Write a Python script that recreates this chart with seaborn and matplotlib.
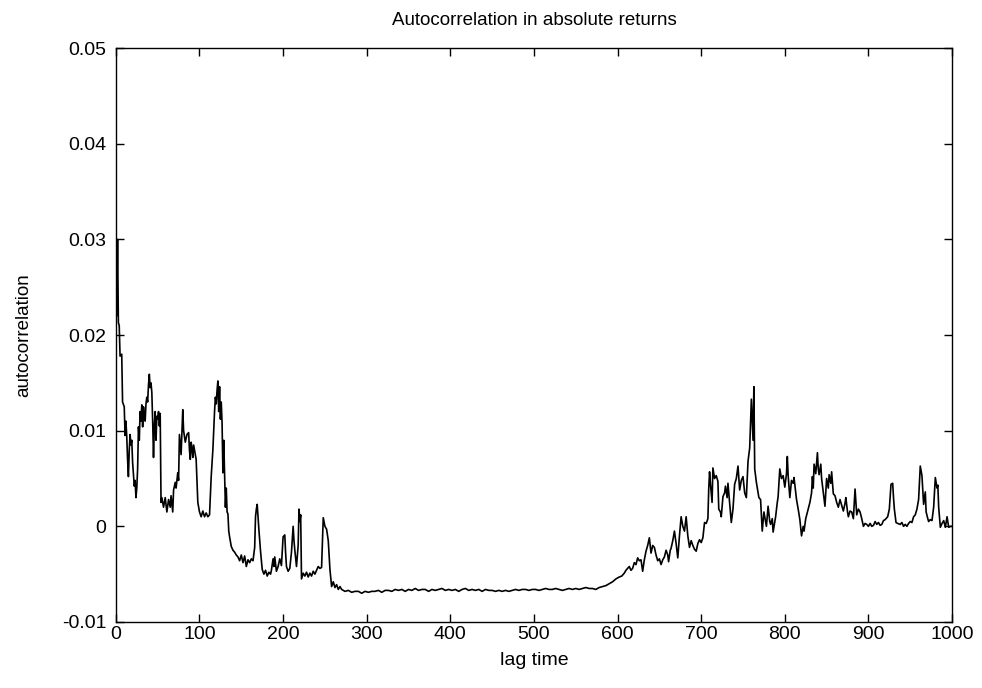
import numpy as np
import pandas as pd
import matplotlib
matplotlib.use("Agg")
import matplotlib.pyplot as plt
import seaborn as sns

# ---------------- data ----------------
lags = [
    0, 1, 2, 3, 4, 5, 7, 8, 10, 11, 12, 13, 14, 15, 16, 17, 18, 19, 20, 21, 22, 23, 24, 25, 26, 27, 28, 29,
    30, 31, 32, 33, 34, 35, 36, 37, 38, 39, 40, 41, 42, 43, 44, 45, 46, 47, 48, 49, 50, 51, 52, 53, 54, 55,
    57, 59, 61, 63, 65, 66, 68, 69, 71, 72, 74, 75, 76, 78, 80, 81, 83, 85, 87, 88, 89, 90, 91, 92, 93, 96,
    98, 100, 102, 104, 106, 108, 110, 112, 114, 116, 118, 119, 120, 121, 122, 123, 124, 125, 126, 127, 128,
    129, 130, 131, 132, 133, 134, 135, 136, 138, 140, 142, 144, 146, 148, 150, 152, 154, 156, 158, 160, 162,
    164, 166,
    167, 168, 169, 170, 171, 173, 175, 177, 179, 181, 183, 185, 186, 188, 189, 190, 192, 194, 196, 198, 199,
    200, 202, 203, 204, 206, 208, 210, 212, 213, 214, 216, 218, 219, 220, 221, 222, 224, 226, 228, 230, 232,
    234, 236, 238, 240, 242, 244, 246, 248, 250, 252, 254, 256, 258, 260, 262, 264, 266, 268, 270, 274, 278,
    282, 286, 290, 294, 298, 302, 306, 310, 314, 318, 322, 326, 330, 334, 338, 342, 346, 350, 354, 358, 362,
    366, 370, 374, 378, 382, 386, 390, 394, 398, 402, 406, 410, 414, 418, 422, 426, 430, 434, 438, 442, 446,
    450, 454, 458, 462, 466, 470, 474, 478, 482, 486, 490, 494, 498, 502, 506, 510, 514, 518, 522, 526, 530,
    534, 538, 542, 546, 550, 554, 558, 562, 566, 570, 574, 578, 582, 586, 590, 594, 598, 602, 605, 608, 610,
    614, 616, 618, 620, 622, 624, 626, 628, 630, 632, 634, 636, 638, 640, 642, 644, 646, 648, 650, 652, 654,
    656, 658, 660, 661, 663, 664, 666, 668, 670, 672, 674, 676, 678, 680, 682, 684, 686, 688, 690, 692, 694,
    696, 698, 700, 702, 704, 706, 708, 709, 710, 711, 713, 714, 716, 718, 720, 721, 723, 724, 726, 728, 729,
    731, 732, 734, 736, 738, 740, 742, 744, 746, 748, 750, 752, 754, 756, 758, 760, 762, 763, 764, 766, 768,
    769, 771, 773, 775, 776, 778, 780, 782, 783, 785, 786, 788, 789, 791, 792, 794, 796, 798, 800, 802, 803,
    804, 806, 808, 810, 811, 813, 814, 816, 818, 820, 822, 823, 825, 828, 830, 832, 833, 834, 835, 836, 837,
    839, 840, 841, 843, 844, 846, 848, 850, 852, 853, 855, 856, 858, 860, 862, 864, 866, 868, 870, 872, 873,
    875, 876, 878, 880, 882, 884, 886, 888, 890, 892, 894, 896, 898, 900, 902, 904, 906, 908, 910, 912, 914,
    916, 918, 920, 923, 925, 927, 929, 930, 931, 933, 935, 938, 940, 942, 944, 946, 948, 950, 952, 954, 956,
    958, 960, 962, 964, 966, 968, 969, 971, 972, 974, 976, 978, 980, 982, 983, 984, 986, 988, 990, 992, 994,
    996, 998, 1000,
]

# autocorrelation values in units of 1e-3
autocorr_e3 = [
    31.2, 22.0, 30.0, 21.3, 21.0, 17.8, 18.0, 13.0, 12.5, 9.5, 11.0, 9.4, 7.0, 5.2, 8.0, 9.6, 8.5, 9.0, 6.7,
    5.5, 4.2, 4.8, 3.0, 4.0, 6.0, 10.4, 9.0, 12.0,
    11.0, 12.7, 10.4, 12.5, 11.5, 11.0, 12.8, 13.5, 13.0, 14.8, 15.9, 14.5, 15.0, 14.0, 11.0, 7.2, 10.5, 12.0,
    9.0, 11.5, 11.2, 12.0, 10.5, 11.8, 2.5, 3.0,
    2.0, 3.0, 1.5, 2.8, 2.0, 3.2, 1.5, 3.8, 4.6, 4.0, 5.6, 4.8, 9.6, 7.5, 12.2, 10.0, 8.8, 9.6, 9.8, 8.0, 7.0,
    8.8, 8.2, 7.2, 8.5, 7.0,
    2.5, 1.5, 1.0, 1.6, 1.0, 1.4, 1.0, 1.2, 5.2, 8.0, 12.0, 13.5, 12.8, 14.2, 15.2, 12.0, 14.6, 11.2, 13.0,
    10.8, 5.6,
    9.0, 5.4, 2.0, 4.0, 1.5, 1.3, -0.5, -1.1, -2.1, -2.5, -2.7, -3.0, -3.2, -3.6, -3.0, -3.8, -3.1, -4.2, -3.5,
    -3.8, -3.4,
    -3.6, -2.2,
    1.0, 1.8, 2.3, 1.0, -0.3, -2.6, -4.5, -5.0, -4.6, -5.2, -4.8, -5.0, -4.6, -3.4, -4.2, -3.2, -4.7, -4.2,
    -3.4, -4.1, -2.5,
    -1.1, -0.9, -2.8, -4.2, -4.7, -4.4, -2.7, 0.0, -1.5, -2.5, -4.2, -2.0, 1.8, 0.5, 1.2, -5.5, -4.9, -5.2,
    -4.8, -5.3, -4.9,
    -5.2, -4.7, -5.0, -4.6, -4.2, -4.4, -4.3, 0.9, 0.0, -0.3, -1.5, -4.5, -6.3, -5.8, -6.4, -6.1, -6.6, -6.3,
    -6.6, -6.8, -6.7,
    -6.9, -6.8, -6.8, -7.0, -6.8, -6.9, -6.8, -6.8, -6.7, -6.9, -6.7, -6.7, -6.8, -6.6, -6.7, -6.6, -6.8, -6.6,
    -6.7, -6.5, -6.7,
    -6.6, -6.6, -6.8, -6.6, -6.7, -6.6, -6.5, -6.7, -6.6, -6.7, -6.6, -6.8, -6.6, -6.5, -6.7, -6.6, -6.7, -6.6,
    -6.8, -6.6, -6.7,
    -6.7, -6.8, -6.7, -6.8, -6.7, -6.8, -6.7, -6.6, -6.7, -6.6, -6.6, -6.7, -6.6, -6.6, -6.7, -6.6, -6.5, -6.6,
    -6.6, -6.5, -6.6,
    -6.7, -6.6, -6.5, -6.6, -6.5, -6.6, -6.5, -6.4, -6.5, -6.5, -6.6, -6.4, -6.3, -6.2, -6.0, -5.8, -5.5, -5.3,
    -5.2, -4.9, -4.6,
    -4.2, -4.6, -4.4, -3.8, -4.0, -3.3, -3.6, -3.5, -4.7, -3.5, -2.6, -2.0, -1.2, -2.8, -2.0, -2.2, -3.0, -3.6,
    -3.4, -4.0, -3.5,
    -3.2, -2.5, -3.0, -3.7, -2.5, -2.3, -1.5, -0.5, -1.8, -3.3, -1.0, 1.0, 0.0, -0.5, 1.0, -1.0, -2.2, -1.5,
    -2.0, -2.4, -2.6,
    -1.8, -1.4, -1.7, -1.2, 0.4, 0.3, 0.8, 3.9, 5.7, 4.5, 2.5, 6.1, 5.0, 5.3, 4.7, 1.8, 1.5, 1.0, 3.1, 3.5,
    4.2,
    3.0, 4.5, 2.5, 0.4, 1.8, 4.4, 5.0, 6.3, 3.8, 4.8, 5.2, 3.5, 3.0, 6.8, 8.2, 13.3, 9.0, 14.6, 6.0, 4.6, 3.5,
    3.0, 2.8, -0.5, 1.5, 1.0, 0.0, 2.1, 0.5, 0.2, 0.8, -0.6, 0.5, 1.0, 2.5, 3.1, 6.0, 5.0, 5.3, 4.1, 5.5, 7.3,
    5.3, 3.0, 4.8, 4.5, 5.1, 3.5, 2.8, 1.8, 0.7, -1.0, 0.0, -0.5, 0.8, 1.8, 2.5, 3.5, 5.2, 4.0, 6.5, 6.0, 5.5,
    7.7, 6.0, 5.4, 6.5, 5.0, 3.5, 2.1, 5.0, 4.0, 5.4, 4.5, 5.7, 3.4, 3.2, 2.5, 2.0, 2.8, 2.2, 1.6, 2.4, 3.0,
    1.5, 1.0, 1.6, 1.5, 0.8, 3.9, 1.2, 1.8, 1.5, 0.8, 0.0, 0.3, 0.2, 0.0, 0.3, 0.0, 0.1, 0.5, 0.2, 0.4, 0.1,
    0.2, 0.6, 0.7, 1.0, 1.8, 4.4, 4.5, 3.0, 1.8, 0.4, 0.3, 0.2, 0.4, 0.0, 0.2, 0.0, 0.3, 0.5, 0.4, 1.0, 1.2,
    1.8, 2.8, 6.3, 5.3, 2.3, 3.6, 1.5, 0.8, 0.5, 0.7, 0.6, 2.0, 5.1, 4.0, 4.3, 2.0, -0.1, 0.3, 0.6, -0.1, 1.0,
    -0.1, 0.0, 0.0,
]

x_ticks = [0, 100, 200, 300, 400, 500, 600, 700, 800, 900, 1000]
y_ticks = [-0.01, 0.0, 0.01, 0.02, 0.03, 0.04, 0.05]
y_tick_labels = ["-0.01", "0", "0.01", "0.02", "0.03", "0.04", "0.05"]

title = "Autocorrelation in absolute returns"
x_label = "lag time"
y_label = "autocorrelation"

# ---------------- plot ----------------
sns.set_theme(style="white")
plt.rcParams["font.family"] = ["Liberation Sans", "DejaVu Sans"]

df = pd.DataFrame({"lag": lags, "acf": np.array(autocorr_e3) * 1e-3})

fig = plt.figure(figsize=(9.82, 6.88), dpi=100)
ax = fig.add_axes([0.118, 0.096, 0.8515, 0.834])

sns.lineplot(data=df, x="lag", y="acf", ax=ax, color="black", linewidth=1.2,
             estimator=None, sort=False)

ax.set_xlim(0, 1000)
ax.set_ylim(-0.01, 0.05)
ax.set_xticks(x_ticks)
ax.set_xticklabels([str(t) for t in x_ticks])
ax.set_yticks(y_ticks)
ax.set_yticklabels(y_tick_labels)

ax.tick_params(direction="in", length=6, width=1, colors="black",
               top=True, right=True, bottom=True, left=True, labelsize=14)
ax.tick_params(axis="x", pad=3)
ax.tick_params(axis="y", pad=7)
for s in ax.spines.values():
    s.set_color("black")
    s.set_linewidth(1.0)

ax.set_title(title, fontsize=13.5, color="black", pad=17)
ax.set_xlabel(x_label, fontsize=14, color="black")
ax.set_ylabel(y_label, fontsize=13.5, color="black")
ax.xaxis.set_label_coords(0.5, -0.052)
ax.yaxis.set_label_coords(-0.1, 0.5)

fig.savefig("out.png", dpi=100, facecolor="white")
